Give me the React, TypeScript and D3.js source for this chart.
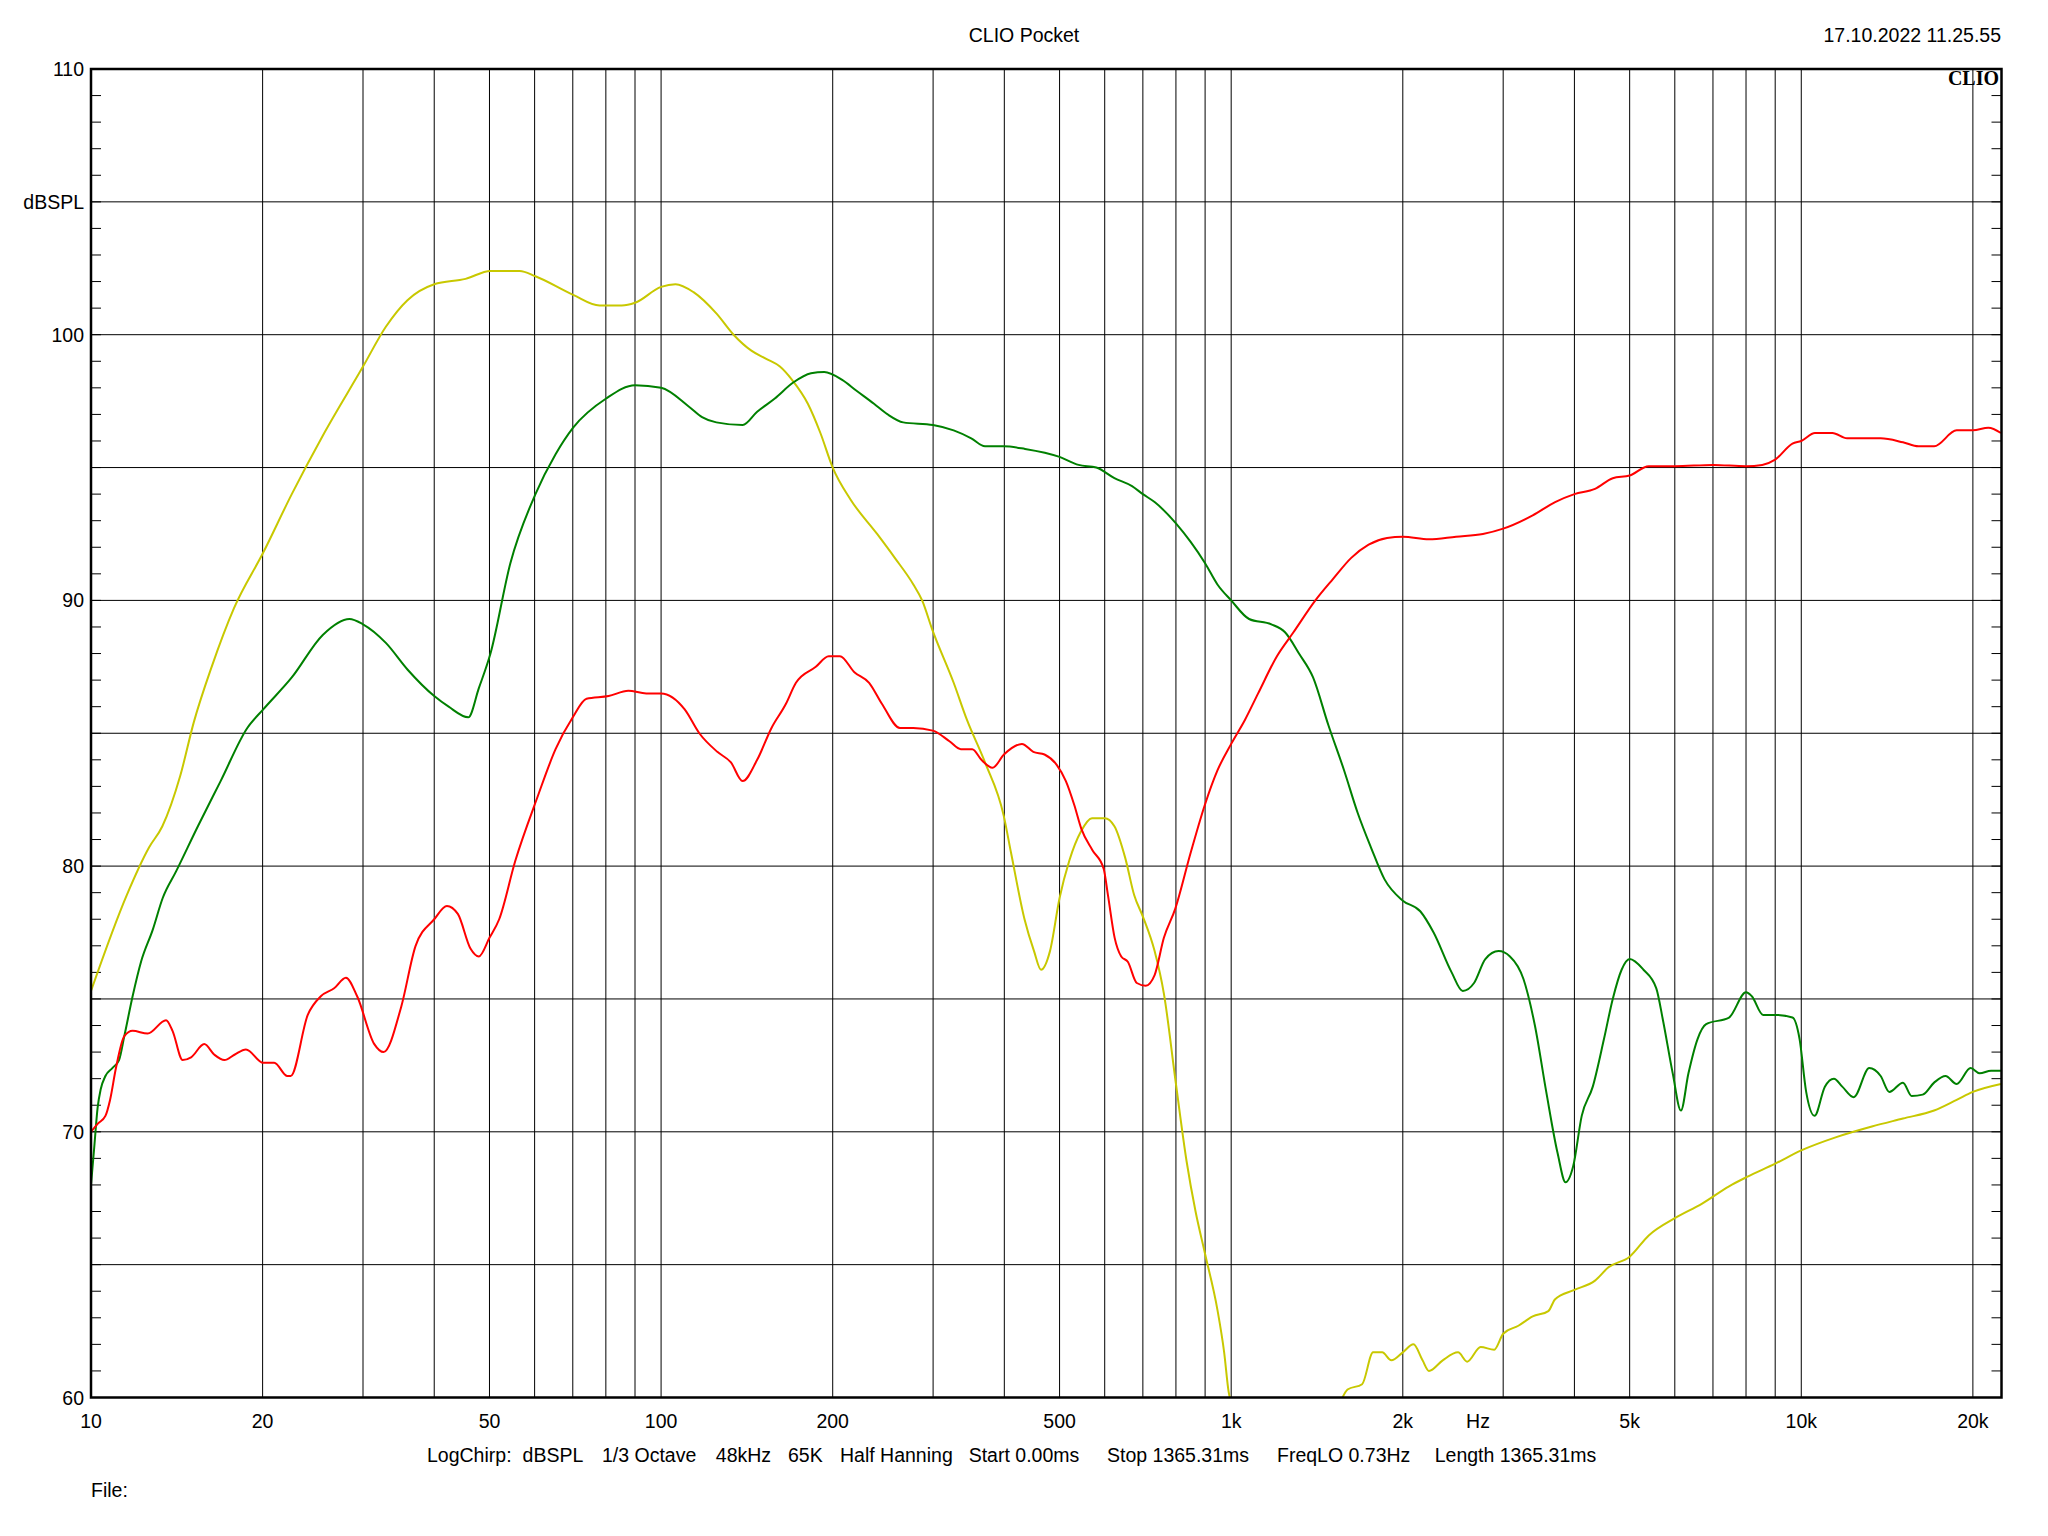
import React from "react";
import * as d3 from "d3";

// ---------- data ----------
const yellowFreq = [10, 11.55, 12.64, 13.34, 14.34, 15.14, 16.28, 17.81, 20.05, 22.5, 25.5, 30, 32.9, 35.9, 40, 45.4, 50.2, 56.5, 60.2, 70.1, 78, 85.3, 90, 100, 106, 114, 125, 134, 144, 152.6, 161.6, 169.7, 180.9, 190.3, 200, 214.9, 239.3, 257, 277, 287, 299, 326, 344, 370, 399, 411, 434, 451, 464, 481, 500, 520, 545, 570, 600, 624, 652, 676, 700, 734, 762, 800, 835, 866, 900, 946, 972, 990, 1000, 1200, 1560, 1600, 1697, 1774, 1840, 1910, 2000, 2088, 2166, 2223, 2350, 2500, 2594, 2739, 2893, 3000, 3190, 3380, 3600, 3700, 4000, 4347, 4590, 5000, 5400, 6000, 6700, 7470, 8030, 9000, 10000, 11520, 13300, 15080, 17100, 18730, 20000, 22400];
const yellowDb: (number | null)[] = [75.3, 78.9, 80.7, 81.5, 83.4, 85.4, 87.5, 89.7, 91.8, 94.0, 96.2, 98.8, 100.3, 101.3, 101.9, 102.1, 102.4, 102.4, 102.2, 101.5, 101.1, 101.1, 101.2, 101.8, 101.9, 101.6, 100.8, 100.0, 99.4, 99.1, 98.8, 98.3, 97.4, 96.3, 95.0, 93.8, 92.5, 91.6, 90.6, 90.0, 88.9, 86.9, 85.5, 83.9, 81.9, 80.5, 78.0, 76.8, 76.1, 76.8, 78.8, 80.2, 81.3, 81.8, 81.8, 81.5, 80.3, 78.9, 78.1, 76.8, 75.2, 71.8, 68.9, 67.0, 65.4, 63.3, 61.7, 60.2, 59.8, null, 59.9, 60.3, 60.5, 61.7, 61.7, 61.4, 61.7, 62.0, 61.4, 61.0, 61.4, 61.7, 61.35, 61.9, 61.8, 62.4, 62.7, 63.05, 63.25, 63.7, 64.05, 64.4, 64.9, 65.3, 66.1, 66.75, 67.3, 67.95, 68.3, 68.8, 69.3, 69.8, 70.2, 70.5, 70.8, 71.2, 71.5, 71.8];

const greenFreq = [10, 10.13, 10.27, 10.4, 10.6, 10.9, 11.2, 11.44, 11.83, 12.24, 12.83, 13.36, 14.1, 15.4, 16.88, 18.8, 20.05, 22.5, 25.5, 28.4, 30, 32.9, 35.9, 40, 42.4, 45.9, 47.9, 50.2, 54.4, 60.2, 65.3, 70.1, 80.1, 90, 100, 111.8, 118, 125, 139, 147.4, 158.3, 170.5, 183.2, 193.3, 207.8, 219.9, 236.3, 249.7, 265.9, 299.9, 326, 350, 370, 399, 435, 500, 540, 580, 624, 670, 700, 734, 800, 849, 900, 946, 1000, 1075, 1176, 1243, 1315, 1392, 1481, 1578, 1667, 1759, 1858, 2000, 2146, 2265, 2436, 2548, 2667, 2791, 2945, 3083, 3256, 3410, 3570, 3737, 3860, 3980, 4120, 4308, 4508, 4670, 4840, 5000, 5287, 5568, 5720, 5950, 6150, 6340, 6580, 6810, 7470, 8000, 8190, 8570, 9000, 9650, 9930, 10200, 10550, 11000, 11410, 11800, 12360, 13160, 13780, 14270, 15080, 15620, 16330, 17100, 17910, 18730, 19820, 20560, 21520, 22400];
const greenDb = [68.0, 69.4, 70.9, 71.6, 72.1, 72.4, 72.7, 73.6, 75.1, 76.4, 77.6, 78.8, 79.8, 81.5, 83.2, 85.2, 85.9, 87.1, 88.7, 89.3, 89.1, 88.4, 87.4, 86.4, 86.0, 85.6, 86.7, 88.0, 91.4, 94.0, 95.5, 96.5, 97.6, 98.1, 98.0, 97.3, 96.9, 96.7, 96.6, 97.1, 97.6, 98.2, 98.55, 98.6, 98.3, 97.9, 97.4, 97.0, 96.7, 96.6, 96.4, 96.1, 95.8, 95.8, 95.7, 95.4, 95.1, 95.0, 94.6, 94.3, 94.0, 93.7, 92.9, 92.2, 91.4, 90.6, 90.0, 89.3, 89.1, 88.8, 88.0, 87.1, 85.3, 83.6, 82.0, 80.7, 79.5, 78.7, 78.3, 77.5, 76.0, 75.3, 75.6, 76.5, 76.8, 76.6, 75.75, 74.0, 71.5, 69.2, 68.1, 68.7, 70.6, 71.7, 73.5, 75.0, 76.1, 76.5, 76.1, 75.4, 74.2, 72.2, 70.8, 72.2, 73.5, 74.05, 74.3, 75.25, 75.1, 74.4, 74.4, 74.3, 73.5, 71.5, 70.6, 71.7, 72.0, 71.7, 71.3, 72.4, 72.1, 71.5, 71.85, 71.35, 71.4, 71.85, 72.1, 71.8, 72.4, 72.2, 72.3, 72.3];

const redFreq = [10, 10.27, 10.6, 10.8, 11.06, 11.44, 11.83, 12.57, 13.54, 13.9, 14.48, 14.98, 15.8, 16.46, 17.14, 17.85, 18.7, 20.05, 20.96, 22.1, 22.4, 24.0, 25.3, 26.7, 28.0, 29.3, 31.4, 32.6, 35.0, 37.1, 40.0, 42.1, 44.0, 46.3, 47.9, 50, 52, 55.5, 60.7, 65.3, 70, 74, 80.9, 87.6, 94.2, 100, 110, 116.7, 125.5, 132.6, 139, 147.4, 156.2, 165.5, 172.4, 186.8, 196.8, 205.9, 218.3, 231.7, 244.1, 262.4, 277, 299.6, 320.5, 335.6, 351.4, 364.6, 381.5, 399.4, 429.5, 449.7, 470.5, 494.6, 512.9, 530.6, 546, 571, 597.5, 608, 624.6, 641.4, 658.7, 683, 708, 734, 762, 798, 849, 899, 946, 1000, 1057, 1115, 1203, 1286, 1405, 1508, 1624, 1742, 1877, 2000, 2223, 2480, 2764, 3000, 3380, 3700, 4000, 4347, 4670, 5000, 5400, 6000, 7000, 8000, 8540, 9000, 9650, 10000, 10570, 11340, 12030, 13780, 15080, 16050, 17100, 18730, 20000, 21290, 22400];
const redDb = [70.0, 70.3, 70.6, 71.2, 72.4, 73.6, 73.8, 73.7, 74.2, 73.8, 72.7, 72.8, 73.3, 72.9, 72.7, 72.9, 73.1, 72.6, 72.6, 72.1, 72.1, 74.4, 75.1, 75.4, 75.8, 75.1, 73.3, 73.0, 74.7, 77.0, 78.0, 78.5, 78.2, 76.9, 76.6, 77.3, 78.0, 80.2, 82.6, 84.4, 85.6, 86.3, 86.4, 86.6, 86.5, 86.5, 85.9, 85.0, 84.3, 83.9, 83.2, 84.0, 85.2, 86.1, 86.9, 87.5, 87.9, 87.9, 87.3, 86.9, 86.1, 85.2, 85.2, 85.1, 84.7, 84.4, 84.4, 84.0, 83.7, 84.2, 84.6, 84.3, 84.2, 83.8, 83.2, 82.3, 81.4, 80.6, 79.9, 78.9, 77.3, 76.6, 76.4, 75.6, 75.5, 75.9, 77.3, 78.4, 80.5, 82.3, 83.6, 84.6, 85.5, 86.5, 87.9, 88.8, 90.0, 90.8, 91.6, 92.1, 92.35, 92.4, 92.3, 92.4, 92.5, 92.7, 93.2, 93.7, 94.0, 94.2, 94.6, 94.7, 95.05, 95.05, 95.1, 95.05, 95.1, 95.3, 95.9, 96.0, 96.3, 96.3, 96.1, 96.1, 95.95, 95.8, 95.8, 96.4, 96.4, 96.5, 96.3];

const yLabelValues = [110, 100, 90, 80, 70, 60];
const xLabelFreqs = [10, 20, 50, 100, 200, 500, 1000, 2000, 5000, 10000, 20000];
const xLabelTexts = ["10", "20", "50", "100", "200", "500", "1k", "2k", "5k", "10k", "20k"];
const xGridFreqs = [20, 30, 40, 50, 60, 70, 80, 90, 100, 200, 300, 400, 500, 600, 700, 800, 900, 1000, 2000, 3000, 4000, 5000, 6000, 7000, 8000, 9000, 10000, 20000];
const yGridValues = [65, 70, 75, 80, 85, 90, 95, 100, 105];
const infoSegments = ["LogChirp:", "dBSPL", "1/3 Octave", "48kHz", "65K", "Half Hanning", "Start 0.00ms", "Stop 1365.31ms", "FreqLO 0.73Hz", "Length 1365.31ms"];
const infoStarts = [427, 522.6, 602, 715.8, 788, 840, 968.7, 1107, 1277, 1434.7];

// ---------- layout ----------
const W = 2048, H = 1536;
const L = 91, R = 2001.5, T = 69, B = 1397.5;
const FONT = "'Liberation Sans', Arial, sans-serif";
const FS = 19.5;

export default function App() {
  const x = d3.scaleLog().domain([10, 22450]).range([L, R]);
  const y = d3.scaleLinear().domain([60, 110]).range([B, T]);

  const mk = (fr: number[], db: (number | null)[]) =>
    fr.map((f, i) => ({ f, v: db[i] }));

  const line = d3
    .line<{ f: number; v: number | null }>()
    .defined((d) => d.v !== null)
    .x((d) => x(d.f))
    .y((d) => y(d.v as number))
    .curve(d3.curveMonotoneX);

  const series = [
    { data: mk(yellowFreq, yellowDb), color: "#c8c800" },
    { data: mk(greenFreq, greenDb), color: "#008000" },
    { data: mk(redFreq, redDb), color: "#ff0000" },
  ];

  const minorTicks = d3.range(61, 110, 1);

  return (
    <svg
      width={W}
      height={H}
      viewBox={`0 0 ${W} ${H}`}
      style={{ position: "absolute", left: 0, top: 0, display: "block", background: "#fff" }}
    >
      <rect x={0} y={0} width={W} height={H} fill="#fff" />
      <defs>
        <clipPath id="plotclip">
          <rect x={L} y={T} width={R - L} height={B - T} />
        </clipPath>
      </defs>

      {/* grid */}
      {xGridFreqs.map((f) => (
        <line key={"vx" + f} x1={x(f)} x2={x(f)} y1={T} y2={B} stroke="#000" strokeWidth={1} />
      ))}
      {yGridValues.map((v) => (
        <line key={"hy" + v} x1={L} x2={R} y1={y(v)} y2={y(v)} stroke="#000" strokeWidth={1} />
      ))}
      {minorTicks.map((v) => (
        <g key={"mt" + v}>
          <line x1={L} x2={L + 10} y1={y(v)} y2={y(v)} stroke="#000" strokeWidth={1} />
          <line x1={R - 10} x2={R} y1={y(v)} y2={y(v)} stroke="#000" strokeWidth={1} />
        </g>
      ))}

      {/* CLIO logo */}
      <text
        x={1999}
        y={85}
        textAnchor="end"
        fontFamily="'Liberation Serif', 'Times New Roman', serif"
        fontWeight="bold"
        fontSize={20}
        fill="#000"
      >
        CLIO
      </text>

      {/* curves */}
      <g clipPath="url(#plotclip)">
        {series.map((s, i) => (
          <path key={i} d={line(s.data as any) || ""} fill="none" stroke={s.color} strokeWidth={2} strokeLinejoin="round" />
        ))}
      </g>

      {/* frame */}
      <rect x={L} y={T} width={R - L} height={B - T} fill="none" stroke="#000" strokeWidth={2.5} />

      {/* y labels */}
      {yLabelValues.map((v) => (
        <text key={"yl" + v} x={84} y={y(v) + 7} textAnchor="end" fontFamily={FONT} fontSize={FS} fill="#000">
          {v}
        </text>
      ))}
      <text x={84} y={y(105) + 7} textAnchor="end" fontFamily={FONT} fontSize={FS} fill="#000">
        dBSPL
      </text>

      {/* x labels */}
      {xLabelFreqs.map((f, i) => (
        <text key={"xl" + f} x={x(f)} y={1428} textAnchor="middle" fontFamily={FONT} fontSize={FS} fill="#000">
          {xLabelTexts[i]}
        </text>
      ))}
      <text x={1478} y={1428} textAnchor="middle" fontFamily={FONT} fontSize={FS} fill="#000">
        Hz
      </text>

      {/* header */}
      <text x={1024} y={41.5} textAnchor="middle" fontFamily={FONT} fontSize={FS} fill="#000">
        CLIO Pocket
      </text>
      <text x={2001} y={41.5} textAnchor="end" fontFamily={FONT} fontSize={FS} fill="#000">
        17.10.2022 11.25.55
      </text>

      {/* info line */}
      {infoSegments.map((s, i) => (
        <text key={"in" + i} x={infoStarts[i]} y={1461.5} fontFamily={FONT} fontSize={FS} fill="#000">
          {s}
        </text>
      ))}
      <text x={91} y={1497} fontFamily={FONT} fontSize={FS} fill="#000">
        File:
      </text>
    </svg>
  );
}
